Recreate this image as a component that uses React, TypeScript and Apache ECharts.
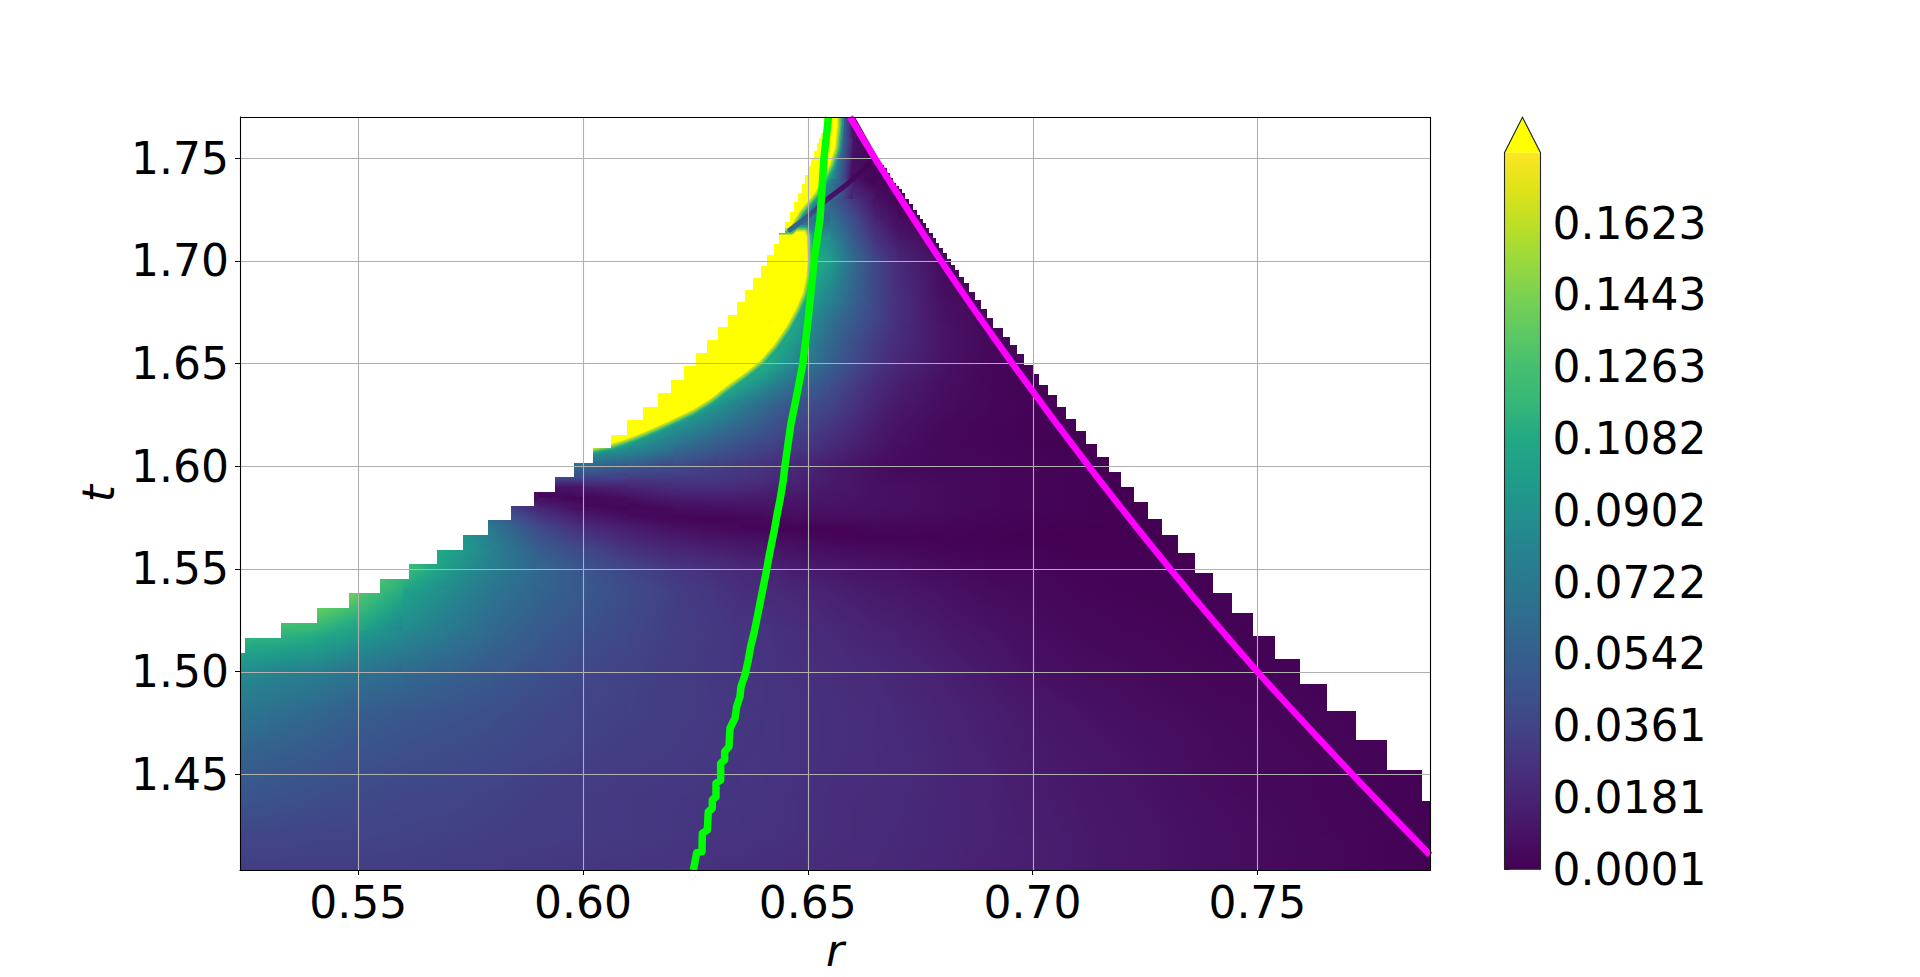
import React, { useEffect, useRef } from "react";
import * as echarts from "echarts";

const rMin = 0.5237, rMax = 0.7884, tMin = 1.4034, tMax = 1.77;
const vMax = 180; // top of the colour scale, in thousandths
const rTicks = [0.55, 0.6, 0.65, 0.7, 0.75];
const tTicks = [1.45, 1.5, 1.55, 1.6, 1.65, 1.7, 1.75];
const cbarTicks = [0.0001, 0.0181, 0.0361, 0.0542, 0.0722, 0.0902, 0.1082, 0.1263, 0.1443, 0.1623];

const viridis = ["#440154","#471365","#482475","#46337f","#414487","#3b528b","#355f8d","#2f6c8e","#2a788e","#25848e","#21918c","#1f9e89","#22a884","#35b779","#44bf70","#5ec962","#7ad151","#9bd93c","#bddf26","#dfe318","#fde725"];

// Field, value x 1000, on a non-uniform node lattice
const fieldR = [0.52,0.53,0.54,0.55,0.56,0.57,0.58,0.59,0.6,0.61,0.62,0.63,0.635,0.64,0.645,0.65,0.655,0.66,0.665,0.67,0.68,0.69,0.7,0.71,0.72,0.74,0.76,0.78,0.8];
const fieldT = [1.78,1.76,1.74,1.73,1.72,1.71,1.7,1.69,1.68,1.67,1.66,1.65,1.64,1.63,1.62,1.61,1.6,1.595,1.59,1.585,1.58,1.575,1.57,1.565,1.56,1.55,1.54,1.52,1.5,1.48,1.46,1.44,1.42,1.4];
const fieldStart = [15,14,13,14,13,13,13,11,10,10,10,10,9,8,8,7,6,6,5,5,5,5,4,4,3,2,0,0,0,0,0,0,0,0];
const fieldRows = [
  [120,120,12,1,1],
  [120,120,120,8,1,1,1],
  [120,120,120,90,8,2,1,1,1],
  [100,100,55,28,8,2,1,1],
  [70,70,60,70,42,18,5,1,1],
  [120,120,110,88,52,28,12,2,1],
  [130,130,120,98,62,37,22,4,1],
  [130,130,130,130,110,88,60,38,23,6,1,1],
  [130,130,130,130,125,100,78,56,38,25,7,3,1],
  [130,130,130,130,120,90,66,50,36,24,9,3,1],
  [130,130,130,125,105,80,60,43,31,22,10,4,1,1],
  [130,130,128,115,92,72,54,40,29,20,9,3,1,1],
  [130,130,125,105,88,70,55,44,32,22,15,7,3,1,1],
  [130,130,120,92,76,62,50,42,36,27,18,12,6,3,1,1,0],
  [130,120,95,70,60,50,40,35,29,21,14,9,4,2,1,1,0],
  [110,110,95,68,50,43,36,32,28,22,16,11,7,3,2,1,0,0,0],
  [75,70,62,48,40,33,30,26,22,18,13,10,7,5,4,3,2,1,0,0],
  [55,50,40,35,32,30,28,25,21,17,13,10,7,5,4,3,2,1,0,0],
  [20,12,5,14,18,23,24,22,19,16,14,12,10,8,7,5,3,2,1,0,0],
  [35,22,4,2,8,14,15,14,13,12,11,10,9,8,7,5,3,2,1,0,0],
  [70,45,18,5,2,6,8,9,9,9,9,9,8,8,7,5,3,2,1,0,0],
  [90,60,30,14,7,2,2,3,4,5,6,6,6,6,5,4,2,1,1,0,0],
  [120,100,70,40,23,14,8,4,3,2,1,1,1,2,3,3,2,1,1,0,0,0,0],
  [130,105,75,46,30,19,13,9,8,7,5,4,2,1,1,1,1,1,0,0,0,0,0],
  [145,130,105,78,52,38,26,18,14,12,11,9,7,6,5,4,4,2,1,1,0,0,0,0],
  [140,140,125,96,76,60,47,37,29,24,21,19,15,13,12,10,9,8,5,3,3,1,1,0,0],
  [160,160,160,140,105,86,70,58,50,41,33,27,24,22,20,18,16,14,12,11,8,5,4,2,1,1,0,0,0],
  [125,120,115,100,85,73,60,51,44,38,33,30,28,27,25,23,21,19,17,16,12,9,6,4,3,1,0,0,0],
  [88,82,76,68,62,56,50,44,38,35,32,29,28,27,26,25,24,22,21,19,16,12,8,6,5,2,1,0,0],
  [72,66,60,53,49,46,43,39,36,34,32,30,29,28,27,26,25,24,23,21,18,15,12,9,7,4,2,1,0],
  [58,54,50,46,43,41,39,36,34,32,31,29,28,28,27,26,25,24,23,22,19,16,13,11,9,5,3,1,0],
  [48,46,43,40,38,37,35,33,31,30,29,28,28,27,26,25,24,23,23,22,19,17,14,12,10,6,3,1,0],
  [37,37,36,36,35,34,33,32,31,30,29,27,27,26,26,25,24,23,22,21,19,17,15,13,11,7,4,1,0],
  [31,32,32,32,32,31,30,29,28,27,26,25,25,24,23,23,22,22,21,20,18,16,15,13,11,7,4,1,0],
];

// Staircase edges of the defined region: right end of a step and its top
const leftStairR = [0.5248,0.5328,0.5408,0.5479,0.5548,0.5613,0.5675,0.5733,0.5789,0.584,0.5891,0.5938,0.598,0.6022,0.6062,0.6098,0.6133,0.6167,0.6196,0.6225,0.6251,0.6276,0.63,0.6322,0.6342,0.636,0.6378,0.6396,0.6409,0.6425,0.6436,0.6449,0.646,0.6469,0.6478,0.6487,0.6494,0.65,0.6507,0.6514,0.652,0.6525,0.6529,0.6535,0.654];
const leftStairT = [1.5092,1.5164,1.5237,1.531,1.5383,1.5451,1.5524,1.5592,1.5665,1.5738,1.5807,1.5875,1.5948,1.6016,1.6089,1.6152,1.6225,1.6289,1.6357,1.642,1.6488,1.6552,1.6615,1.6678,1.6737,1.68,1.6859,1.6917,1.6975,1.7029,1.7083,1.7136,1.719,1.7238,1.7287,1.7331,1.7375,1.7419,1.7462,1.7497,1.7536,1.7575,1.7599,1.7623,1.77];
const rightStairR = [0.667,0.6676,0.6683,0.669,0.6696,0.6703,0.671,0.6716,0.6725,0.6734,0.6743,0.675,0.6756,0.6763,0.677,0.6779,0.6785,0.6792,0.6801,0.681,0.6819,0.6827,0.6836,0.6848,0.6859,0.6872,0.6885,0.6899,0.6912,0.6934,0.695,0.6965,0.6981,0.7001,0.7014,0.7034,0.7054,0.7074,0.7097,0.7119,0.7143,0.717,0.7197,0.7226,0.7257,0.7288,0.7324,0.7361,0.7401,0.7444,0.749,0.7539,0.7595,0.7655,0.772,0.7789,0.7866,0.7884];
const rightStairT = [1.7467,1.7453,1.7428,1.7404,1.738,1.7365,1.735,1.7331,1.7302,1.7277,1.7248,1.7224,1.7204,1.7185,1.7161,1.7136,1.7112,1.7088,1.7063,1.7039,1.701,1.698,1.6956,1.6922,1.6893,1.6849,1.681,1.6766,1.6722,1.6674,1.663,1.6591,1.6547,1.6493,1.645,1.6396,1.6347,1.6289,1.623,1.6172,1.6109,1.6045,1.5972,1.5899,1.5826,1.5743,1.5665,1.5578,1.548,1.5383,1.5286,1.5174,1.5061,1.494,1.4808,1.4667,1.4521,1.437];

// Over-range (yellow) regions
const lowerLobeR = [0.6015,0.606,0.6095,0.6133,0.6188,0.6245,0.6285,0.632,0.6358,0.6393,0.6425,0.6453,0.6473,0.6489,0.6497,0.65,0.6498,0.6493,0.6456,0.63,0.59,0.59];
const lowerLobeT = [1.6085,1.6105,1.613,1.6162,1.6215,1.6275,1.633,1.639,1.645,1.651,1.659,1.668,1.676,1.684,1.692,1.7,1.7117,1.7143,1.7143,1.7143,1.62,1.6085];
const upperLobeR = [0.646,0.6482,0.6516,0.6534,0.6549,0.6561,0.6566,0.6565,0.64,0.635];
const upperLobeT = [1.7159,1.724,1.733,1.7403,1.7467,1.7549,1.7662,1.78,1.78,1.7159];
const streakR = [0.646,0.6505,0.6545,0.6583,0.6623,0.6638];
const streakT = [1.715,1.7224,1.7302,1.7365,1.7442,1.7472];

const greenR = [0.62454,0.62491,0.62528,0.62646,0.62654,0.62765,0.62787,0.62876,0.62876,0.62958,0.62958,0.63062,0.63062,0.63151,0.63151,0.63247,0.63269,0.63381,0.63418,0.63492,0.63514,0.63603,0.63677,0.63729,0.63803,0.63863,0.63937,0.64011,0.6407,0.64137,0.64196,0.64256,0.64322,0.64382,0.64456,0.6449,0.6462,0.6472,0.6489,0.65,0.6514,0.6527,0.6536,0.6546];
const greenT = [1.40339,1.40745,1.41184,1.41232,1.42125,1.42288,1.4318,1.43343,1.43749,1.43911,1.4456,1.44723,1.45534,1.45697,1.46102,1.46346,1.47239,1.47726,1.48294,1.48781,1.49268,1.49836,1.50567,1.51216,1.51865,1.52515,1.53327,1.54138,1.54788,1.55599,1.56249,1.56898,1.5771,1.58359,1.59333,1.6,1.62,1.6308,1.65,1.67,1.7,1.72,1.75,1.77];
const magentaR = [0.6594,0.6649,0.6796,0.6955,0.7125,0.7306,0.75,0.7711,0.7884];
const magentaT = [1.77,1.75,1.7,1.65,1.6,1.55,1.5,1.45,1.4107];

function hexRgb(h: string) { return [1,3,5].map((i) => parseInt(h.slice(i, i + 2), 16)); }
const viridisRgb = viridis.map(hexRgb);
function colorOf(v: number) {
  if (v > vMax) return "#ffff00";
  const f = Math.max(0, v / vMax) * (viridis.length - 1);
  const i = Math.min(viridis.length - 2, Math.floor(f));
  const k = f - i;
  const c = viridisRgb[i].map((a, n) => Math.round(a + (viridisRgb[i + 1][n] - a) * k));
  return `rgb(${c[0]},${c[1]},${c[2]})`;
}
function nodeAt(row: number, col: number) {
  const v = fieldRows[row][col - fieldStart[row]];
  return v === undefined ? -1 : v;
}
const cellData: number[][] = [];
for (let a = 0; a < fieldT.length - 1; a++) {
  for (let b = 0; b < fieldR.length - 1; b++) {
    const raw = [nodeAt(a, b), nodeAt(a, b + 1), nodeAt(a + 1, b), nodeAt(a + 1, b + 1)];
    const ok = raw.filter((v) => v >= 0);
    if (!ok.length) continue;
    const mean = ok.reduce((s, v) => s + v, 0) / ok.length;
    const q = raw.map((v) => (v >= 0 ? v : mean));
    cellData.push([fieldR[b], fieldR[b + 1], fieldT[a + 1], fieldT[a], q[0], q[1], q[2], q[3]]);
  }
}
function shade(tl: number, tr: number, bl: number, br: number) {
  const a = (tr - tl + br - bl) / 2, b = (bl - tl + br - tr) / 2, c = (tl + tr + bl + br) / 4;
  const span = Math.abs(a) + Math.abs(b);
  if (span < 0.15) return colorOf(c);
  const k = span / 2 / (a * a + b * b);
  const offs = [0, 0.2, 0.4, 0.6, 0.8, 1];
  return new echarts.graphic.LinearGradient(0.5 - k * a, 0.5 - k * b, 0.5 + k * a, 0.5 + k * b,
    offs.map((s) => ({ offset: s, color: colorOf(c + (s - 0.5) * span) })));
}
function poly(api: any, rs: number[], ts: number[]) {
  return rs.map((r, i) => api.coord([r, ts[i]]));
}
function stairsLeft(api: any) {
  const pts: number[][] = [[rMin - 0.01, tMax + 0.01], [rMin - 0.01, leftStairT[0]]];
  leftStairR.forEach((r, i) => {
    pts.push([r, leftStairT[i]]);
    if (i + 1 < leftStairR.length) pts.push([r, leftStairT[i + 1]]);
  });
  pts.push([leftStairR[leftStairR.length - 1], tMax + 0.01]);
  return pts.map((p) => api.coord(p).map(Math.round));
}
function stairsRight(api: any) {
  const pts: number[][] = [[rMax + 0.01, tMax + 0.01], [magentaR[0] + 0.001, tMax + 0.01], [magentaR[0] + 0.001, tMax]];
  rightStairR.forEach((r, i) => {
    pts.push([i ? rightStairR[i - 1] : r - 0.0005, rightStairT[i]]);
    pts.push([r, rightStairT[i]]);
  });
  pts.push([rMax + 0.01, rightStairT[rightStairT.length - 1]]);
  return pts.map((p) => api.coord(p).map(Math.round));
}
const edgeBands: [number, string][] = [[13, "#1fa187"], [9, "#44bf70"], [6, "#9bd93c"], [3, "#dfe318"]];
const textFont = { fontFamily: "DejaVu Sans", fontSize: 44, color: "#000" };
const line1 = { color: "#000", width: 1 };

function buildOption() {
  const left = 240, top = 117, width = 1190, height = 753;
  const bar = { left: 1504.5, right: 1540.5, top: 152.7, bottom: 869.3 };
  return {
    animation: false,
    backgroundColor: "#fff",
    grid: [
      { left, top, width, height, show: false, outerBoundsMode: "none" },
      { left: bar.left, top: bar.top, width: bar.right - bar.left, height: bar.bottom - bar.top, show: false, outerBoundsMode: "none" },
    ],
    xAxis: [
      {
        type: "value", gridIndex: 0, min: rMin, max: rMax, name: "r", nameLocation: "middle", nameGap: 56,
        nameTextStyle: { ...textFont, fontStyle: "italic" },
        axisLine: { show: true, lineStyle: line1 },
        axisTick: { show: true, customValues: rTicks, length: 5, lineStyle: line1 },
        axisLabel: { ...textFont, customValues: rTicks, margin: 10, formatter: (v: number) => v.toFixed(2) },
        splitLine: { show: false },
      },
      { type: "value", gridIndex: 1, min: 0, max: 1, show: false },
    ],
    yAxis: [
      {
        type: "value", gridIndex: 0, min: tMin, max: tMax, name: "t", nameLocation: "middle", nameGap: 118, nameRotate: 90,
        nameTextStyle: { ...textFont, fontStyle: "italic" },
        axisLine: { show: true, lineStyle: line1 },
        axisTick: { show: true, customValues: tTicks, length: 5, lineStyle: line1 },
        axisLabel: { ...textFont, customValues: tTicks, margin: 11, formatter: (v: number) => v.toFixed(2) },
        splitLine: { show: false },
      },
      {
        type: "value", gridIndex: 1, min: 0.0001, max: 0.18, position: "right",
        axisLine: { show: false },
        axisTick: { show: true, customValues: cbarTicks, length: 5, lineStyle: line1 },
        axisLabel: { ...textFont, customValues: cbarTicks, margin: 12, formatter: (v: number) => v.toFixed(4) },
        splitLine: { show: false },
      },
    ],
    series: [
      {
        type: "custom", xAxisIndex: 0, yAxisIndex: 0, clip: true, z: 2, silent: true,
        data: cellData, encode: { x: [0, 1], y: [2, 3] },
        renderItem: (_: any, api: any) => {
          const p0 = api.coord([api.value(0), api.value(3)]).map(Math.round);
          const p1 = api.coord([api.value(1), api.value(2)]).map(Math.round);
          return {
            type: "rect",
            shape: { x: p0[0], y: p0[1], width: p1[0] - p0[0], height: p1[1] - p0[1] },
            style: { fill: shade(api.value(4), api.value(5), api.value(6), api.value(7)) },
          };
        },
      },
      {
        type: "custom", xAxisIndex: 0, yAxisIndex: 0, clip: true, z: 3, silent: true,
        data: [[lowerLobeR[0], lowerLobeT[0]], [upperLobeR[0], upperLobeT[0]]], encode: { x: 0, y: 1 },
        renderItem: (p: any, api: any) => {
          const pts = p.dataIndex === 0 ? poly(api, lowerLobeR, lowerLobeT) : poly(api, upperLobeR, upperLobeT);
          return {
            type: "group",
            children: [
              ...edgeBands.map(([w, c]) => ({
                type: "polygon", shape: { points: pts }, style: { fill: "none", stroke: c, lineWidth: w, lineJoin: "round", opacity: 0.7 },
              })),
              { type: "polygon", shape: { points: pts }, style: { fill: "#ffff00" } },
            ],
          };
        },
      },
      {
        type: "custom", xAxisIndex: 0, yAxisIndex: 0, clip: true, z: 4, silent: true,
        data: [[streakR[0], streakT[0]]], encode: { x: 0, y: 1 },
        renderItem: (_: any, api: any) => ({
          type: "polyline", shape: { points: poly(api, streakR, streakT) },
          style: {
            fill: "none", lineWidth: 5, lineCap: "round",
            stroke: new echarts.graphic.LinearGradient(0, 1, 1, 0, [
              { offset: 0, color: "#2f6c8e" }, { offset: 0.25, color: "#3b528b" }, { offset: 0.5, color: "#46136a" }, { offset: 1, color: "#440154" },
            ]),
          },
        }),
      },
      {
        type: "custom", xAxisIndex: 0, yAxisIndex: 0, clip: true, z: 5, silent: true,
        data: [[leftStairR[0], leftStairT[0]], [rightStairR[0], rightStairT[0]]], encode: { x: 0, y: 1 },
        renderItem: (p: any, api: any) => ({
          type: "polygon",
          shape: { points: p.dataIndex === 0 ? stairsLeft(api) : stairsRight(api) },
          style: { fill: "#fff" },
        }),
      },
      {
        type: "custom", xAxisIndex: 0, yAxisIndex: 0, clip: true, z: 6, silent: true,
        data: [...rTicks.map((v) => [v, 0]), ...tTicks.map((v) => [v, 1])],
        renderItem: (_: any, api: any) => {
          const v = api.value(0);
          const vert = api.value(1) === 0;
          const a = api.coord(vert ? [v, tMin] : [rMin, v]);
          const b = api.coord(vert ? [v, tMax] : [rMax, v]);
          const xa = vert ? Math.round(a[0]) + 0.5 : a[0], ya = vert ? a[1] : Math.round(a[1]) + 0.5;
          const xb = vert ? xa : b[0], yb = vert ? b[1] : ya;
          return { type: "line", shape: { x1: xa, y1: ya, x2: xb, y2: yb }, style: { stroke: "#b0b0b0", lineWidth: 1.1 } };
        },
      },
      {
        type: "line", xAxisIndex: 0, yAxisIndex: 0, z: 7, symbol: "none", silent: true, clip: true,
        data: greenR.map((r, i) => [r, greenT[i]]),
        lineStyle: { color: "#00ff00", width: 7.5, cap: "butt", join: "round" },
      },
      {
        type: "line", xAxisIndex: 0, yAxisIndex: 0, z: 7, symbol: "none", silent: true, clip: true, smooth: 0.3,
        data: magentaR.map((r, i) => [r, magentaT[i]]),
        lineStyle: { color: "#ff00ff", width: 6.5, cap: "butt", join: "round" },
      },
      {
        type: "custom", xAxisIndex: 1, yAxisIndex: 1, z: 2, silent: true,
        data: [[0, 0.0001, 1, 0.18]], encode: { x: [0, 2], y: [1, 3] },
        renderItem: (_: any, api: any) => {
          const p0 = api.coord([api.value(0), api.value(3)]);
          const p1 = api.coord([api.value(2), api.value(1)]);
          return {
            type: "rect",
            shape: { x: p0[0], y: p0[1], width: p1[0] - p0[0], height: p1[1] - p0[1] },
            style: {
              fill: new echarts.graphic.LinearGradient(0, 1, 0, 0,
                viridis.map((c, i) => ({ offset: i / (viridis.length - 1), color: c }))),
            },
          };
        },
      },
    ],
    graphic: [
      { type: "rect", z: 50, silent: true, shape: { x: left + 0.5, y: top + 0.5, width, height }, style: { fill: "none", stroke: "#000", lineWidth: 1.1 } },
      { type: "polygon", z: 50, silent: true, shape: { points: [[bar.left, bar.top], [(bar.left + bar.right) / 2, 117.3], [bar.right, bar.top]] }, style: { fill: "#ffff00" } },
      { type: "polygon", z: 51, silent: true, shape: { points: [[bar.left, bar.bottom], [bar.left, bar.top], [(bar.left + bar.right) / 2, 117.3], [bar.right, bar.top], [bar.right, bar.bottom]] }, style: { fill: "none", stroke: "#222", lineWidth: 1.1 } },
    ],
  };
}

export default function App() {
  const ref = useRef<HTMLDivElement>(null);
  useEffect(() => {
    const chart = echarts.init(ref.current!, undefined, { renderer: "svg" });
    chart.setOption(buildOption() as any);
    return () => chart.dispose();
  }, []);
  return <div ref={ref} style={{ position: "absolute", left: 0, top: 0, width: 1920, height: 977 }} />;
}
